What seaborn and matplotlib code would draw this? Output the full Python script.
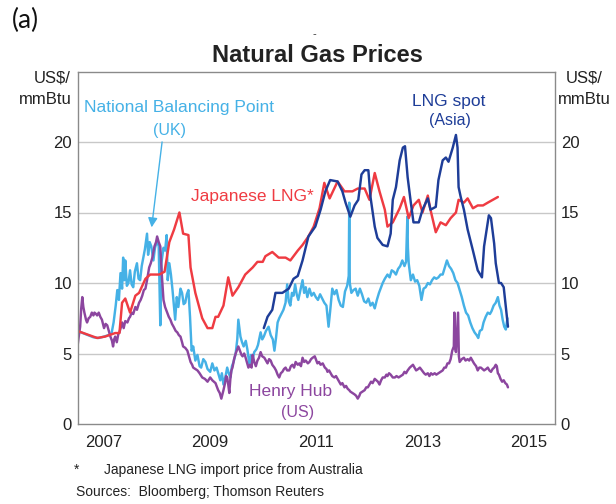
import matplotlib
matplotlib.use("Agg")
import matplotlib.pyplot as plt
import seaborn as sns
import pandas as pd

# ---------------- data (decimal years, US$/mmBtu) ----------------
jpn_year = [2007.00, 2007.37, 2007.52, 2007.71, 2007.79, 2007.84, 2007.90, 2007.99, 2008.09, 2008.16,
            2008.28, 2008.37, 2008.54, 2008.64, 2008.73, 2008.82, 2008.92, 2008.99, 2009.09, 2009.13,
            2009.22, 2009.35, 2009.45, 2009.54, 2009.60, 2009.65, 2009.75, 2009.84, 2009.92, 2010.03,
            2010.16, 2010.30, 2010.39, 2010.49, 2010.54, 2010.67, 2010.79, 2010.92, 2011.01, 2011.15,
            2011.24, 2011.35, 2011.45, 2011.56, 2011.65, 2011.75, 2011.90, 2012.03, 2012.18, 2012.28,
            2012.41, 2012.50, 2012.60, 2012.69, 2012.79, 2012.84, 2012.94, 2013.07, 2013.15, 2013.24,
            2013.33, 2013.43, 2013.50, 2013.60, 2013.65, 2013.75, 2013.84, 2013.94, 2014.03, 2014.13,
            2014.18, 2014.28, 2014.35, 2014.45, 2014.54, 2014.64, 2014.73, 2014.92]
jpn_value = [6.6, 6.1, 6.2, 6.45, 6.45, 8.6, 8.9, 7.9, 9.1, 9.3,
             10.3, 10.6, 10.6, 10.8, 12.9, 13.8, 15.0, 13.5, 13.4, 11.1,
             9.3, 7.5, 6.8, 6.8, 7.6, 7.6, 8.4, 10.4, 9.1, 9.7,
             10.6, 11.1, 11.5, 11.5, 11.9, 12.2, 11.8, 11.8, 11.6, 12.3,
             12.7, 13.3, 14.0, 15.3, 17.1, 16.0, 17.2, 16.5, 16.5, 16.7,
             16.7, 15.9, 17.8, 16.5, 15.2, 14.0, 14.3, 15.3, 16.1, 14.6,
             15.5, 15.9, 15.0, 16.2, 15.2, 13.6, 14.3, 14.1, 14.6, 15.0,
             15.9, 15.7, 16.0, 15.3, 15.5, 15.5, 15.7, 16.1]

spot_year = [2010.51, 2010.58, 2010.67, 2010.73, 2010.86, 2010.98, 2011.07, 2011.15, 2011.24, 2011.35,
             2011.48, 2011.58, 2011.67, 2011.76, 2011.90, 2011.99, 2012.05, 2012.14, 2012.22, 2012.29,
             2012.35, 2012.41, 2012.48, 2012.52, 2012.60, 2012.65, 2012.75, 2012.84, 2012.90, 2012.94,
             2013.00, 2013.07, 2013.13, 2013.17, 2013.22, 2013.28, 2013.33, 2013.43, 2013.50, 2013.60,
             2013.65, 2013.75, 2013.80, 2013.88, 2013.94, 2013.99, 2014.07, 2014.13, 2014.16, 2014.18,
             2014.22, 2014.28, 2014.35, 2014.45, 2014.54, 2014.62, 2014.66, 2014.75, 2014.79, 2014.85,
             2014.88, 2014.94, 2014.98, 2015.03, 2015.11]
spot_value = [6.8, 7.6, 8.1, 9.3, 9.3, 9.6, 10.3, 10.5, 11.6, 13.3,
              14.0, 15.2, 16.5, 17.3, 17.2, 16.5, 15.7, 14.7, 15.5, 15.9,
              17.7, 18.0, 18.0, 16.1, 14.0, 13.2, 12.7, 12.6, 13.5, 15.9,
              16.8, 18.7, 19.6, 19.7, 17.5, 15.7, 14.3, 14.3, 15.2, 16.0,
              15.2, 15.4, 17.3, 18.7, 18.9, 18.6, 19.6, 20.5, 19.6, 16.8,
              16.1, 15.2, 13.8, 12.3, 10.9, 10.4, 12.6, 14.8, 14.6, 12.8,
              11.4, 10.0, 10.0, 9.7, 6.9]

nbp_year = [2007.00, 2007.10, 2007.20, 2007.30, 2007.40, 2007.50, 2007.58, 2007.64, 2007.68, 2007.72,
            2007.75, 2007.78, 2007.81, 2007.84, 2007.86, 2007.88, 2007.90, 2007.93, 2007.96, 2007.99,
            2008.02, 2008.05, 2008.08, 2008.12, 2008.15, 2008.18, 2008.21, 2008.24, 2008.27, 2008.31,
            2008.33, 2008.36, 2008.39, 2008.43, 2008.46, 2008.50, 2008.53, 2008.56, 2008.58, 2008.62,
            2008.65, 2008.68, 2008.70, 2008.73, 2008.76, 2008.79, 2008.82, 2008.84, 2008.87, 2008.90,
            2008.94, 2008.97, 2009.00, 2009.03, 2009.06, 2009.09, 2009.12, 2009.15, 2009.18, 2009.22,
            2009.26, 2009.30, 2009.33, 2009.37, 2009.41, 2009.45, 2009.50, 2009.54, 2009.58, 2009.62,
            2009.66, 2009.69, 2009.72, 2009.75, 2009.79, 2009.82, 2009.85, 2009.88, 2009.91, 2009.94,
            2009.98, 2010.01, 2010.03, 2010.07, 2010.10, 2010.13, 2010.17, 2010.20, 2010.24, 2010.27,
            2010.30, 2010.33, 2010.37, 2010.40, 2010.45, 2010.48, 2010.51, 2010.55, 2010.60, 2010.64,
            2010.68, 2010.71, 2010.74, 2010.77, 2010.80, 2010.84, 2010.88, 2010.92, 2010.95, 2010.98,
            2011.01, 2011.04, 2011.07, 2011.10, 2011.13, 2011.16, 2011.20, 2011.24, 2011.27, 2011.30,
            2011.33, 2011.37, 2011.41, 2011.45, 2011.49, 2011.53, 2011.57, 2011.61, 2011.65, 2011.69,
            2011.73, 2011.76, 2011.80, 2011.84, 2011.88, 2011.92, 2011.96, 2012.00, 2012.04, 2012.08,
            2012.11, 2012.12, 2012.13, 2012.16, 2012.20, 2012.24, 2012.28, 2012.32, 2012.36, 2012.40,
            2012.44, 2012.48, 2012.52, 2012.56, 2012.60, 2012.64, 2012.68, 2012.72, 2012.75, 2012.79,
            2012.84, 2012.88, 2012.92, 2012.96, 2013.00, 2013.04, 2013.08, 2013.12, 2013.16, 2013.19,
            2013.205, 2013.215, 2013.225, 2013.24, 2013.28, 2013.32, 2013.36, 2013.40, 2013.44, 2013.48,
            2013.52, 2013.56, 2013.60, 2013.64, 2013.68, 2013.72, 2013.76, 2013.80, 2013.84, 2013.88,
            2013.92, 2013.96, 2014.00, 2014.04, 2014.08, 2014.12, 2014.16, 2014.20, 2014.24, 2014.28,
            2014.32, 2014.36, 2014.40, 2014.44, 2014.48, 2014.52, 2014.55, 2014.58, 2014.62, 2014.65,
            2014.69, 2014.73, 2014.77, 2014.80, 2014.84, 2014.88, 2014.92, 2014.95, 2014.98, 2015.01,
            2015.04, 2015.07, 2015.10]
nbp_value = [6.6, 6.45, 6.3, 6.15, 6.1, 6.2, 6.3, 6.4, 7.2, 8.4,
             9.5, 8.8, 10.7, 9.6, 11.8, 10.2, 11.6, 9.8, 10.0, 10.9,
             9.9, 9.7, 10.8, 11.4, 10.3, 10.2, 11.2, 11.8, 12.4, 13.5,
             12.0, 12.9, 12.6, 11.6, 12.5, 13.0, 12.6, 7.0, 11.4, 12.5,
             12.3, 13.4, 10.2, 11.4, 10.6, 9.5, 8.2, 7.4, 9.0, 8.3,
             9.6, 9.3, 8.5, 8.6, 9.2, 9.5, 7.6, 5.2, 5.5, 4.5,
             4.9, 4.1, 4.0, 4.6, 4.4, 3.9, 3.7, 4.3, 3.8, 4.0,
             3.5, 3.1, 3.6, 2.8, 3.4, 4.0, 3.6, 3.3, 4.1, 4.4,
             5.0, 6.0, 7.4, 6.2, 5.8, 5.5, 5.9, 5.3, 4.2, 4.9,
             4.6, 5.1, 5.3, 5.6, 6.5, 6.0, 6.2, 6.6, 6.9, 6.3,
             6.0, 5.2, 6.1, 7.2, 7.5, 7.8, 8.1, 8.6, 9.9, 8.7,
             8.4, 9.3, 9.1, 9.9, 9.2, 8.8, 9.5, 10.2, 9.3, 9.7,
             9.0, 9.6, 9.1, 9.3, 9.0, 8.8, 9.2, 8.9, 8.6, 8.4,
             6.9, 8.0, 9.6, 9.2, 9.5, 8.8, 8.4, 8.3, 9.4, 9.8,
             10.5, 15.7, 10.0, 9.3, 9.5, 9.6, 9.1, 9.6, 9.2, 8.7,
             8.6, 8.9, 8.4, 8.6, 8.2, 8.8, 9.3, 9.7, 10.0, 10.3,
             10.6, 10.4, 10.9, 10.8, 10.6, 11.0, 11.2, 11.6, 11.2, 11.5,
             13.5, 14.7, 12.5, 11.4, 10.2, 10.6, 10.1, 10.2, 9.8, 8.8,
             9.6, 9.7, 10.0, 9.9, 10.2, 10.4, 10.3, 10.4, 10.6, 10.6,
             11.1, 11.6, 11.2, 11.0, 10.7, 10.2, 10.0, 9.5, 9.0, 8.4,
             7.9, 7.7, 7.2, 6.8, 6.5, 6.3, 6.1, 6.6, 6.7, 7.2,
             7.6, 7.9, 7.8, 8.0, 8.4, 8.6, 9.0, 8.4, 8.1, 7.4,
             6.9, 6.7, 7.5]

hh_year = [2007.00, 2007.03, 2007.05, 2007.07, 2007.09, 2007.11, 2007.13, 2007.16, 2007.18, 2007.21,
           2007.24, 2007.27, 2007.30, 2007.32, 2007.35, 2007.37, 2007.40, 2007.43, 2007.46, 2007.50,
           2007.53, 2007.56, 2007.59, 2007.62, 2007.65, 2007.67, 2007.69, 2007.71, 2007.74, 2007.77,
           2007.79, 2007.82, 2007.84, 2007.87, 2007.90, 2007.94, 2007.97, 2007.99, 2008.02, 2008.05,
           2008.09, 2008.12, 2008.16, 2008.19, 2008.22, 2008.25, 2008.28, 2008.31, 2008.35, 2008.38,
           2008.41, 2008.43, 2008.45, 2008.48, 2008.50, 2008.53, 2008.56, 2008.59, 2008.62, 2008.65,
           2008.69, 2008.72, 2008.75, 2008.78, 2008.81, 2008.85, 2008.88, 2008.91, 2008.94, 2008.97,
           2008.99, 2009.03, 2009.07, 2009.10, 2009.13, 2009.16, 2009.18, 2009.22, 2009.26, 2009.30,
           2009.35, 2009.40, 2009.45, 2009.50, 2009.54, 2009.57, 2009.60, 2009.63, 2009.65, 2009.68,
           2009.71, 2009.73, 2009.75, 2009.78, 2009.80, 2009.82, 2009.84, 2009.86, 2009.88, 2009.90,
           2009.92, 2009.95, 2009.98, 2010.01, 2010.03, 2010.06, 2010.09, 2010.11, 2010.14, 2010.16,
           2010.19, 2010.22, 2010.25, 2010.28, 2010.30, 2010.33, 2010.36, 2010.39, 2010.42, 2010.45,
           2010.48, 2010.52, 2010.55, 2010.58, 2010.61, 2010.64, 2010.67, 2010.71, 2010.74, 2010.77,
           2010.80, 2010.83, 2010.86, 2010.89, 2010.92, 2010.95, 2010.99, 2011.02, 2011.05, 2011.08,
           2011.11, 2011.15, 2011.18, 2011.21, 2011.24, 2011.27, 2011.30, 2011.34, 2011.37, 2011.40,
           2011.43, 2011.47, 2011.50, 2011.52, 2011.55, 2011.58, 2011.62, 2011.66, 2011.69, 2011.71,
           2011.74, 2011.77, 2011.80, 2011.84, 2011.87, 2011.90, 2011.93, 2011.96, 2011.99, 2012.03,
           2012.06, 2012.09, 2012.12, 2012.14, 2012.18, 2012.22, 2012.25, 2012.28, 2012.31, 2012.33,
           2012.37, 2012.41, 2012.44, 2012.47, 2012.50, 2012.53, 2012.56, 2012.60, 2012.63, 2012.66,
           2012.69, 2012.72, 2012.75, 2012.79, 2012.82, 2012.84, 2012.87, 2012.90, 2012.94, 2012.98,
           2013.01, 2013.05, 2013.09, 2013.13, 2013.16, 2013.19, 2013.22, 2013.26, 2013.29, 2013.32,
           2013.35, 2013.38, 2013.42, 2013.45, 2013.49, 2013.53, 2013.56, 2013.60, 2013.63, 2013.66,
           2013.69, 2013.73, 2013.76, 2013.80, 2013.84, 2013.88, 2013.91, 2013.94, 2013.97, 2014.00,
           2014.03, 2014.06, 2014.09, 2014.100, 2014.115, 2014.13, 2014.170, 2014.185, 2014.20, 2014.24,
           2014.28, 2014.31, 2014.35, 2014.38, 2014.41, 2014.44, 2014.47, 2014.51, 2014.54, 2014.57,
           2014.60, 2014.63, 2014.66, 2014.70, 2014.73, 2014.76, 2014.79, 2014.82, 2014.85, 2014.88,
           2014.90, 2014.92, 2014.94, 2014.97, 2015.00, 2015.03, 2015.06, 2015.09, 2015.11]
hh_value = [5.5, 6.4, 6.9, 8.2, 9.0, 8.3, 7.9, 7.4, 7.2, 7.5,
            7.6, 7.9, 7.7, 7.9, 7.8, 7.7, 7.9, 7.6, 7.4, 6.8,
            7.1, 7.0, 6.6, 6.2, 5.9, 5.5, 6.0, 6.2, 5.8, 6.4,
            6.5, 6.9, 7.2, 6.8, 7.3, 7.2, 7.5, 7.6, 7.9, 7.8,
            8.3, 8.1, 8.6, 8.8, 9.1, 9.5, 9.6, 10.2, 11.1, 11.4,
            11.8, 12.2, 12.6, 12.9, 13.3, 12.9, 12.6, 10.5, 8.8, 8.3,
            7.9, 7.6, 7.4, 7.1, 6.9, 6.6, 6.5, 6.3, 6.2, 5.8,
            5.5, 5.4, 5.2, 4.8, 4.4, 4.2, 4.0, 3.9, 3.8, 3.6,
            3.3, 3.2, 3.0, 3.3, 3.1, 3.0, 2.9, 2.6, 2.4, 2.2,
            1.8, 2.1, 2.4, 2.9, 3.4, 3.3, 2.8, 2.2, 3.2, 3.8,
            4.0, 4.6, 5.0, 5.3, 5.5, 5.2, 4.9, 4.8, 5.0, 4.8,
            4.4, 4.0, 4.2, 4.0, 4.9, 4.4, 4.1, 4.5, 4.7, 5.1,
            4.8, 4.7, 4.5, 4.3, 4.6, 4.5, 4.2, 4.0, 3.8, 3.5,
            3.3, 3.6, 3.7, 3.9, 4.0, 3.8, 3.8, 4.1, 4.2, 4.0,
            4.4, 4.2, 4.3, 4.1, 4.7, 4.4, 4.5, 4.3, 4.4, 4.6,
            4.7, 4.8, 4.5, 4.3, 4.4, 4.2, 4.3, 4.0, 3.9, 3.7,
            3.8, 3.6, 3.4, 3.3, 3.4, 3.2, 3.0, 2.8, 2.9, 2.6,
            2.7, 2.5, 2.4, 2.3, 2.2, 2.1, 2.0, 1.8, 2.0, 2.2,
            2.3, 2.4, 2.6, 2.6, 2.8, 3.0, 2.9, 3.2, 3.1, 3.0,
            2.8, 3.1, 3.3, 3.3, 3.5, 3.4, 3.6, 3.5, 3.3, 3.3,
            3.4, 3.3, 3.4, 3.5, 3.7, 3.6, 3.8, 4.0, 4.1, 4.2,
            4.0, 3.8, 3.9, 4.0, 3.8, 3.6, 3.5, 3.6, 3.4, 3.6,
            3.5, 3.6, 3.5, 3.6, 3.7, 3.8, 4.0, 4.0, 4.3, 4.3,
            4.6, 5.2, 5.5, 7.9, 5.4, 5.1, 7.9, 4.8, 4.4, 4.6,
            4.7, 4.5, 4.6, 4.5, 4.7, 4.5, 4.3, 4.1, 3.8, 4.0,
            4.0, 3.9, 3.8, 3.9, 4.0, 3.8, 3.7, 3.9, 4.0, 4.2,
            4.1, 3.6, 3.5, 3.2, 3.0, 3.1, 2.9, 2.8, 2.6]

x_tick_pos = [2007.5, 2009.5, 2011.5, 2013.5, 2015.5]
x_tick_labels = ["2007", "2009", "2011", "2013", "2015"]
year_bounds = [2008, 2009, 2010, 2011, 2012, 2013, 2014, 2015]
y_ticks = [0, 5, 10, 15, 20]

# ---------------- style ----------------
NBP_C = "#45B1E6"
SPOT_C = "#1E3D98"
JPN_C = "#EF3B42"
HH_C = "#8C469F"

sns.set_style("white")
plt.rcParams["font.family"] = ["Liberation Sans", "DejaVu Sans"]

W, H = 616, 504
fig = plt.figure(figsize=(W / 100, H / 100), dpi=100)
ax_l, ax_r, ax_b, ax_t = 77.5, 555.2, 424.0, 71.5
ax = fig.add_axes([ax_l / W, 1 - ax_b / H, (ax_r - ax_l) / W, (ax_b - ax_t) / H])

lw = 1.75
sns.lineplot(x=nbp_year, y=nbp_value, ax=ax, color=NBP_C, lw=lw, sort=False, estimator=None)
sns.lineplot(x=hh_year, y=hh_value, ax=ax, color=HH_C, lw=lw, sort=False, estimator=None)
sns.lineplot(x=jpn_year, y=jpn_value, ax=ax, color=JPN_C, lw=lw, sort=False, estimator=None)
sns.lineplot(x=spot_year, y=spot_value, ax=ax, color=SPOT_C, lw=lw, sort=False, estimator=None)

ax.set_xlim(2007, 2016)
ax.set_ylim(0, 25)
ax.set_xlabel("")
ax.set_ylabel("")

ax.set_yticks(y_ticks)
ax.set_yticklabels([str(v) for v in y_ticks])
ax.tick_params(axis="y", which="both", length=0, labelsize=12, labelleft=True,
               labelright=True, pad=4, labelcolor="#222222")
ax.set_xticks(x_tick_pos)
ax.set_xticklabels(x_tick_labels)
ax.set_xticks(year_bounds, minor=True)
ax.tick_params(axis="x", which="major", length=0, labelsize=12, pad=8, labelcolor="#222222")
ax.tick_params(axis="x", which="minor", length=6, width=1, direction="in", color="#555555")

for v in [5, 10, 15, 20]:
    ax.axhline(v, color="#C8C8C8", lw=1.0, zorder=0)
for s in ax.spines.values():
    s.set_visible(True)
    s.set_color("#8A8A8A")
    s.set_linewidth(1.0)

# series labels
ax.text(2008.92, 22.45, "National Balancing Point", color=NBP_C, fontsize=12.5, ha="center", va="center")
ax.text(2008.73, 20.85, "(UK)", color=NBP_C, fontsize=11.5, ha="center", va="center")
ax.annotate("", xy=(2008.39, 13.75), xytext=(2008.60, 20.2),
            arrowprops=dict(arrowstyle="-|>", color=NBP_C, lw=1.0, mutation_scale=14))
ax.text(2009.13, 16.1, "Japanese LNG*", color=JPN_C, fontsize=12.5, ha="left", va="center")
ax.text(2013.99, 22.9, "LNG spot", color=SPOT_C, fontsize=12.5, ha="center", va="center")
ax.text(2014.01, 21.56, "(Asia)", color=SPOT_C, fontsize=11.5, ha="center", va="center")
ax.text(2011.02, 2.27, "Henry Hub", color=HH_C, fontsize=12.5, ha="center", va="center")
ax.text(2011.15, 0.85, "(US)", color=HH_C, fontsize=11.5, ha="center", va="center")

# figure texts
def ft(x, y, s, **kw):
    fig.text(x / W, 1 - y / H, s, **kw)

ft(25, 20, "(a)", fontsize=19, ha="center", va="center", family=["Lato", "DejaVu Sans"], color="#111111")
ft(314, 34, "-", fontsize=8, ha="center", va="center", color="#333333")
ft(317, 56, "Natural Gas Prices", fontsize=17, fontweight="bold", ha="center", va="center", color="#222222")
ft(71, 78, "US$/", fontsize=12, ha="right", va="center", color="#222222")
ft(72, 100, "mmBtu", fontsize=12, ha="right", va="center", color="#222222")
ft(566, 78, "US$/", fontsize=12, ha="left", va="center", color="#222222")
ft(558, 100, "mmBtu", fontsize=12, ha="left", va="center", color="#222222")
ft(74, 470, "*", fontsize=10, ha="left", va="center", color="#222222")
ft(104, 470, "Japanese LNG import price from Australia", fontsize=10, ha="left", va="center", color="#222222")
ft(76, 492, "Sources:  Bloomberg; Thomson Reuters", fontsize=10, ha="left", va="center", color="#222222")

fig.savefig("out.png", dpi=100)
